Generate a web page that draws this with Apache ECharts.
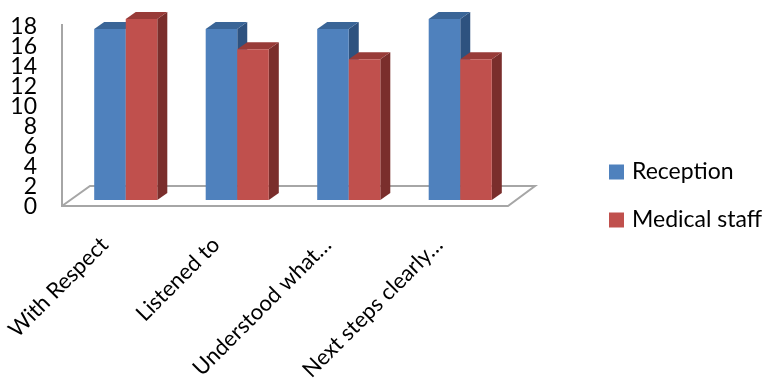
<!DOCTYPE html>
<html>
<head>
<meta charset="utf-8">
<script src="https://cdn.jsdelivr.net/npm/echarts@6/dist/echarts.min.js"></script>
<style>
  html, body { margin: 0; padding: 0; background: #fff; }
  #chart { width: 768px; height: 380px; }
</style>
</head>
<body>
<div id="chart"></div>
<script>
// Survey results: how patients felt they were treated
const categories = ['With Respect', 'Listened to', 'Understood what…', 'Next steps clearly…'];
const seriesNames = ['Reception', 'Medical staff'];
const receptionValues = [17, 17, 17, 18];
const medicalValues = [18, 15, 14, 14];
const yTickLabels = ['0', '2', '4', '6', '8', '10', '12', '14', '16', '18'];
const yRange = { min: 0, max: 18, interval: 2 };

// Plot layout (pixels)
const plot = { left: 70, top: 19, width: 446, bottom: 200 };
const labelScale = { top: 26.5, bottom: 206.5 };  // the value labels sit on the front edge of the floor
const depth = { dx: 10, dy: -7 };          // extrusion of each column
const floorDepth = { dx: 28, dy: -20 };    // extrusion of the floor plane
const font = 'Lato, "Liberation Sans", sans-serif';

const faceColors = [
  { front: '#4f81bd', top: '#3a6597', side: '#2e527f' },
  { front: '#c0504d', top: '#983b38', side: '#7a2e2c' }
];

function columnRenderer(seriesIdx) {
  return function (params, api) {
    const cat = api.value(0);
    const val = api.value(1);
    const base = api.coord([cat, 0]);
    const top = api.coord([cat, val]);
    const band = api.size([1, 0])[0];
    const w = band * 0.283;
    const x0 = base[0] + (seriesIdx === 0 ? -w : 0);
    const c = faceColors[seriesIdx];
    return {
      type: 'group',
      children: [
        {
          type: 'polygon',
          shape: { points: [[x0 + w, top[1]], [x0 + w + depth.dx, top[1] + depth.dy],
                            [x0 + w + depth.dx, base[1] + depth.dy], [x0 + w, base[1]]] },
          style: { fill: c.side }
        },
        {
          type: 'polygon',
          shape: { points: [[x0, top[1]], [x0 + depth.dx, top[1] + depth.dy],
                            [x0 + w + depth.dx, top[1] + depth.dy], [x0 + w, top[1]]] },
          style: { fill: c.top }
        },
        {
          type: 'rect',
          shape: { x: x0, y: top[1], width: w, height: base[1] - top[1] },
          style: { fill: c.front }
        }
      ]
    };
  };
}

function toData(values) {
  return values.map((v, i) => [i, v]);
}

// Floor outline and side wall edge
const floorY = plot.bottom + 6;
const floorLeft = 62;
const floorRight = 508;
const floorStyle = { stroke: '#a6a6a6', lineWidth: 2, fill: null };

const chart = echarts.init(document.getElementById('chart'));
chart.setOption({
  animation: false,
  backgroundColor: '#fff',
  grid: [
    { left: plot.left, top: plot.top, width: plot.width, height: plot.bottom - plot.top,
      outerBoundsMode: 'none' },
    { left: 45, top: labelScale.top, width: 1, height: labelScale.bottom - labelScale.top,
      outerBoundsMode: 'none' }
  ],
  graphic: [
    {
      type: 'polyline', z: -1,
      shape: { points: [[floorLeft, 24], [floorLeft, floorY], [floorRight, floorY],
                        [floorRight + floorDepth.dx - 1, floorY + floorDepth.dy],
                        [floorLeft + floorDepth.dx, floorY + floorDepth.dy],
                        [floorLeft, floorY]] },
      style: floorStyle
    }
  ],
  legend: {
    orient: 'vertical',
    left: 604,
    top: 155,
    itemWidth: 15,
    itemHeight: 15,
    itemGap: 24,
    icon: 'rect',
    data: [
      { name: seriesNames[0], itemStyle: { color: faceColors[0].front } },
      { name: seriesNames[1], itemStyle: { color: faceColors[1].front } }
    ],
    textStyle: { fontFamily: font, fontSize: 23, color: '#000', lineHeight: 24, padding: [0, 0, 0, 3] }
  },
  xAxis: [
    {
      type: 'category',
      gridIndex: 0,
      data: categories,
      axisLine: { show: false },
      axisTick: { show: false },
      axisLabel: { rotate: 45, margin: 20, padding: [0, 30, 0, 0], fontFamily: font, fontSize: 22,
                   color: '#000', interval: 0 }
    },
    { type: 'value', gridIndex: 1, show: false }
  ],
  yAxis: [
    {
      type: 'value',
      gridIndex: 0,
      min: yRange.min,
      max: yRange.max,
      interval: yRange.interval,
      show: false
    },
    {
      // tick labels, one per step of the value scale
      type: 'category',
      gridIndex: 1,
      data: yTickLabels,
      boundaryGap: false,
      axisLine: { show: false },
      axisTick: { show: false },
      splitLine: { show: false },
      axisLabel: { interval: 0, fontFamily: font, fontSize: 23, color: '#000', margin: 8 }
    }
  ],
  series: [
    { type: 'custom', name: seriesNames[0], renderItem: columnRenderer(0), data: toData(receptionValues),
      itemStyle: { color: faceColors[0].front }, encode: { x: 0, y: 1 }, z: 2 },
    { type: 'custom', name: seriesNames[1], renderItem: columnRenderer(1), data: toData(medicalValues),
      itemStyle: { color: faceColors[1].front }, encode: { x: 0, y: 1 }, z: 3 }
  ]
});
</script>
</body>
</html>
